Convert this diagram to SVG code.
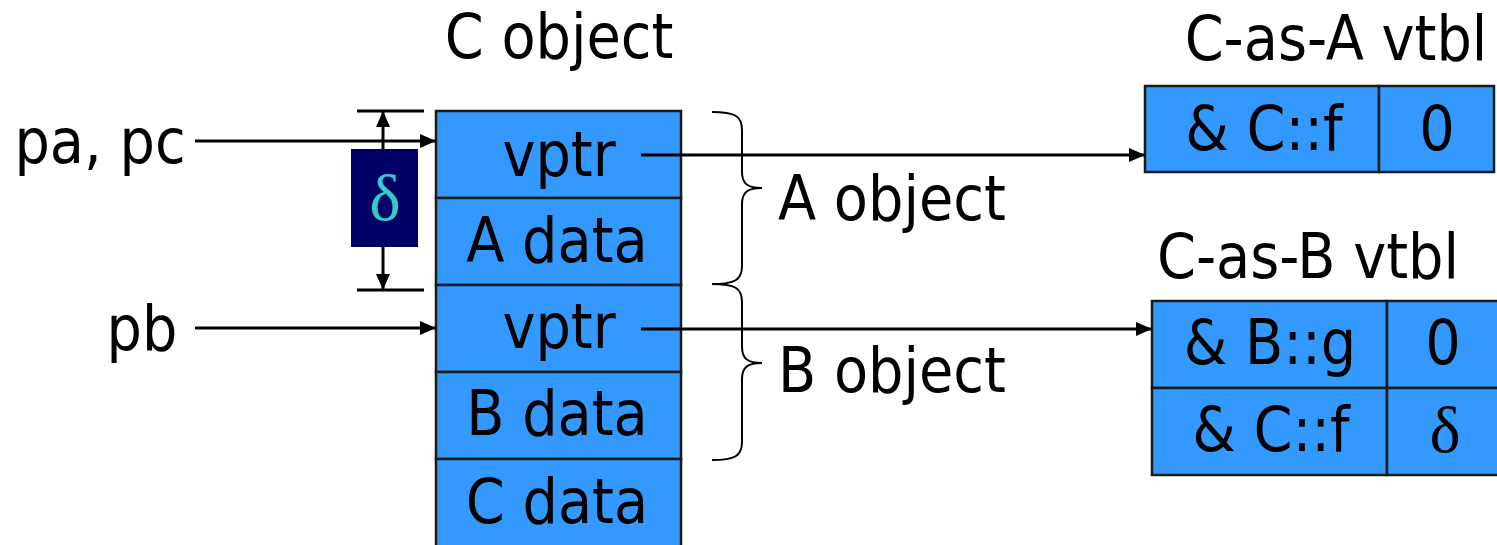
<svg xmlns="http://www.w3.org/2000/svg" width="1497" height="545" viewBox="0 0 1497 545">
<defs>
<style>
.t{font-family:'DejaVu Sans Condensed','DejaVu Sans',sans-serif;font-stretch:condensed;font-size:62px;fill:#000}
.m{text-anchor:middle}
.cell{fill:#3399ff;stroke:#1a1a1a;stroke-width:2.5}
.ln{stroke:#000;stroke-width:3;fill:none}
.br{stroke:#000;stroke-width:2;fill:none}
.sym{font-family:'Liberation Serif','DejaVu Serif',serif;font-size:66px;text-anchor:middle}
</style>
<marker id="ah" markerUnits="userSpaceOnUse" markerWidth="16" markerHeight="14" refX="16" refY="7" orient="auto">
<path d="M0,0 L16,7 L0,14 Z" fill="#000"/>
</marker>
</defs>
<rect width="1497" height="545" fill="#fff"/>

<g id="cobject">
<text class="t m" x="559" y="58">C object</text>
<rect class="cell" x="436" y="111" width="245" height="87"/>
<rect class="cell" x="436" y="198" width="245" height="87"/>
<rect class="cell" x="436" y="285" width="245" height="87"/>
<rect class="cell" x="436" y="372" width="245" height="87"/>
<rect class="cell" x="436" y="459" width="245" height="100"/>
<text class="t m" x="559" y="176">vptr</text>
<text class="t m" x="557" y="262">A data</text>
<text class="t m" x="559" y="348">vptr</text>
<text class="t m" x="557" y="435">B data</text>
<text class="t m" x="557" y="523">C data</text>
</g>

<g id="pointers">
<text class="t m" x="100" y="163">pa, pc</text>
<text class="t m" x="142" y="350">pb</text>
</g>

<g id="delta">
<line class="ln" x1="357" y1="111" x2="424" y2="111" stroke-width="2"/>
<line class="ln" x1="357" y1="290" x2="424" y2="290" stroke-width="2"/>
<line class="ln" x1="383" y1="150" x2="383" y2="111" marker-end="url(#ah)"/>
<line class="ln" x1="383" y1="246" x2="383" y2="290" marker-end="url(#ah)"/>
<rect x="351" y="149" width="67" height="98" fill="#000066"/>
<text class="sym" x="385" y="220" fill="#33cccc">δ</text>
</g>

<g id="braces">
<path class="br" d="M712,112 C735,112 742,116 742,130 L742,172 C742,184 748,188 762,188 C748,188 742,192 742,204 L742,266 C742,280 735,284 712,284"/>
<path class="br" d="M712,284 C735,284 742,288 742,302 L742,347 C742,359 748,363 762,363 C748,363 742,367 742,379 L742,442 C742,456 735,460 712,460"/>
<text class="t" x="778" y="220">A object</text>
<text class="t" x="778" y="392">B object</text>
</g>

<g id="vtblA">
<text class="t m" x="1336" y="60">C-as-A vtbl</text>
<rect class="cell" x="1145" y="86" width="234" height="86"/>
<rect class="cell" x="1379" y="86" width="115" height="86"/>
<text class="t m" x="1264" y="150">&amp; C::f</text>
<text class="t m" x="1437" y="150">0</text>
</g>

<g id="vtblB">
<text class="t m" x="1308" y="278">C-as-B vtbl</text>
<rect class="cell" x="1152" y="301" width="235" height="87"/>
<rect class="cell" x="1387" y="301" width="112" height="87"/>
<rect class="cell" x="1152" y="388" width="235" height="87"/>
<rect class="cell" x="1387" y="388" width="112" height="87"/>
<text class="t m" x="1270" y="364">&amp; B::g</text>
<text class="t m" x="1443" y="364">0</text>
<text class="t m" x="1271" y="451">&amp; C::f</text>
<text class="sym" x="1445" y="452">δ</text>
</g>

<g id="connectors">
<line class="ln" x1="195" y1="141" x2="436" y2="141" marker-end="url(#ah)"/>
<line class="ln" x1="195" y1="328" x2="436" y2="328" marker-end="url(#ah)"/>
<line class="ln" x1="641" y1="155" x2="1145" y2="155" marker-end="url(#ah)"/>
<line class="ln" x1="641" y1="329" x2="1152" y2="329" marker-end="url(#ah)"/>
</g>
</svg>
